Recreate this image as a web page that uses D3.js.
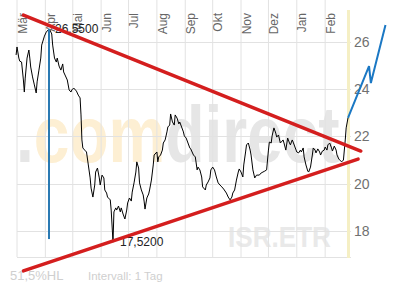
<!DOCTYPE html>
<html><head><meta charset="utf-8">
<script src="https://cdn.jsdelivr.net/npm/d3@7"></script>
<style>html,body{margin:0;padding:0;background:#fff;} svg{display:block;font-family:"Liberation Sans",Arial,sans-serif;}</style>
</head><body><svg id="c" width="394" height="289"></svg>
<script>
// ---------- data ----------
const monthLabels = ["Mär","Apr","Mai","Jun","Jul","Aug","Sep","Okt","Nov","Dez","Jan","Feb"];
const yTicks = [18, 20, 22, 24, 26];
const priceDates = [
"2011-02-28","2011-03-01","2011-03-03","2011-03-04","2011-03-06","2011-03-08","2011-03-09","2011-03-10","2011-03-12","2011-03-14",
"2011-03-15","2011-03-16","2011-03-18","2011-03-20","2011-03-22","2011-03-23","2011-03-25","2011-03-27","2011-03-28","2011-03-31",
"2011-04-02","2011-04-05","2011-04-06","2011-04-08","2011-04-09","2011-04-11","2011-04-13","2011-04-14","2011-04-16","2011-04-18",
"2011-04-20","2011-04-21","2011-04-23","2011-04-25","2011-04-27","2011-04-29","2011-04-30","2011-05-02","2011-05-05","2011-05-07",
"2011-05-09","2011-05-10","2011-05-11","2011-05-12","2011-05-14","2011-05-16","2011-05-18","2011-05-20","2011-05-21","2011-05-23",
"2011-05-25","2011-05-26","2011-05-28","2011-05-30","2011-05-31","2011-06-02","2011-06-04","2011-06-05","2011-06-07","2011-06-08",
"2011-06-11","2011-06-12","2011-06-14","2011-06-15","2011-06-17","2011-06-18","2011-06-20","2011-06-22","2011-06-23","2011-06-25",
"2011-06-27","2011-06-29","2011-06-30","2011-07-02","2011-07-04","2011-07-05","2011-07-07","2011-07-09","2011-07-10","2011-07-12",
"2011-07-13","2011-07-15","2011-07-17","2011-07-18","2011-07-19","2011-07-21","2011-07-23","2011-07-24","2011-07-26","2011-07-28",
"2011-07-29","2011-08-01","2011-08-02","2011-08-03","2011-08-05","2011-08-07","2011-08-08","2011-08-10","2011-08-12","2011-08-13",
"2011-08-15","2011-08-16","2011-08-18","2011-08-20","2011-08-21","2011-08-23","2011-08-25","2011-08-26","2011-08-28","2011-08-30",
"2011-08-31","2011-09-02","2011-09-04","2011-09-06","2011-09-07","2011-09-10","2011-09-12","2011-09-14","2011-09-15","2011-09-17",
"2011-09-19","2011-09-20","2011-09-23","2011-09-24","2011-09-26","2011-09-28","2011-09-29","2011-10-01","2011-10-03","2011-10-05",
"2011-10-07","2011-10-09","2011-10-11","2011-10-13","2011-10-16","2011-10-18","2011-10-20","2011-10-22","2011-10-23","2011-10-25",
"2011-10-27","2011-10-29","2011-10-30","2011-11-01","2011-11-03","2011-11-04","2011-11-06","2011-11-07","2011-11-09","2011-11-11",
"2011-11-12","2011-11-14","2011-11-16","2011-11-18","2011-11-21","2011-11-23","2011-11-25","2011-11-27","2011-11-29","2011-12-01",
"2011-12-02","2011-12-04","2011-12-05","2011-12-07","2011-12-09","2011-12-10","2011-12-12","2011-12-14","2011-12-15","2011-12-17",
"2011-12-18","2011-12-20","2011-12-22","2011-12-24","2011-12-25","2011-12-27","2011-12-28","2011-12-30","2012-01-01","2012-01-03",
"2012-01-05","2012-01-06","2012-01-08","2012-01-09","2012-01-11","2012-01-13","2012-01-14","2012-01-16","2012-01-18","2012-01-19",
"2012-01-21","2012-01-22","2012-01-24","2012-01-26","2012-01-27","2012-01-29","2012-01-31","2012-02-01","2012-02-03","2012-02-04",
"2012-02-06","2012-02-08","2012-02-09","2012-02-11","2012-02-13","2012-02-14","2012-02-16","2012-02-18","2012-02-19","2012-02-21",
"2012-02-23","2012-02-24","2012-02-26"];
const priceValues = [
25.45,25.79,25.32,25.19,25.15,24.39,23.88,24.47,25.32,25.66,
25.32,24.94,24.52,24.18,23.84,24.31,24.81,25.32,25.87,26.25,
26.42,26.55,26.51,26.34,25.87,25.32,25.15,25.32,24.98,24.81,
25.07,24.73,24.56,24.39,23.97,23.88,23.97,24.05,23.92,23.75,
23.63,22.91,21.85,21.51,21.42,21.34,20.79,20.24,19.81,19.43,
19.94,20.49,20.66,20.24,19.94,20.36,20.24,19.73,19.60,19.43,
19.31,18.88,17.52,18.80,18.97,18.88,19.05,18.80,18.97,18.71,
18.50,18.88,19.18,19.39,19.26,19.64,20.03,20.49,20.92,20.66,
20.03,19.73,19.52,19.26,18.92,19.39,19.56,19.73,20.15,20.79,
21.21,21.34,20.92,21.13,21.21,21.42,21.72,21.85,22.19,22.40,
22.48,22.95,22.61,22.48,22.91,22.78,22.53,22.61,22.40,22.19,
22.02,21.93,21.72,21.51,21.47,21.21,21.13,20.58,20.70,20.58,
20.28,19.86,19.73,19.94,20.07,20.24,20.58,20.70,20.58,20.28,
20.03,19.94,19.86,19.77,19.60,19.43,19.31,19.43,19.60,19.73,
20.15,20.49,20.62,20.49,20.28,20.79,21.34,21.64,21.72,21.42,
21.21,20.58,20.24,20.36,20.36,20.45,20.49,20.53,20.58,21.42,
21.76,21.72,22.02,22.36,22.14,21.97,22.06,21.72,21.76,21.85,
21.72,21.42,21.93,21.72,21.64,21.85,21.76,21.55,21.34,21.30,
21.42,21.34,21.51,21.13,20.79,20.53,20.49,20.70,21.21,21.51,
21.42,21.30,21.47,21.34,21.21,21.38,21.42,21.55,21.42,21.64,
21.72,21.51,21.38,21.59,21.42,21.21,21.04,20.96,20.92,21.00,
21.85,22.36,22.78];
const highLabel = "26,5500", highDate = "2011-04-05", highValue = 26.55;
const lowLabel = "17,5200", lowDate = "2011-06-14", lowValue = 17.52;
const markerDate = "2011-04-05", markerValues = [26.55, 17.65];
const upperTrendDates = ["2011-03-08", "2012-03-11"], upperTrendValues = [27.14, 21.38];
const lowerTrendDates = ["2011-03-08", "2012-03-08"], lowerTrendValues = [16.30, 21.04];
const projDates = ["2012-02-26", "2012-03-20", "2012-03-22", "2012-04-07"], projValues = [22.78, 24.98, 24.26, 26.72];
const startDate = "2011-03-01", endDate = "2012-02-26";
const footLeft = "51,5%HL", footRight = "Intervall: 1 Tag", symbolText = "ISR.ETR";

// ---------- layout ----------
const P = d3.utcParse("%Y-%m-%d");
const L = 17, R = 348, B = 257;
const svg = d3.select("#c");
const x = d3.scaleUtc().domain([P(startDate), P(endDate)]).range([L, R]);
const y = d3.scaleLinear().domain([18, 26]).range([230.8, 42]);

// watermark
const wm = svg.append("text").attr("transform", "translate(16,162) scale(0.8,1)")
  .attr("font-size", 80).attr("font-weight", "bold");
wm.append("tspan").attr("fill", "#e6e6e6").text(".");
wm.append("tspan").attr("fill", "#fdefd3").text("com");
wm.append("tspan").attr("fill", "#e6e6e6").text("direct");
svg.append("text").attr("transform", "translate(228,247) scale(0.9,1)").attr("font-size", 29).attr("font-weight", "bold")
  .attr("fill", "#e9e9e9").text(symbolText);

// grid
const months = d3.utcMonth.range(P(startDate), P(endDate));
svg.append("g").selectAll("line").data(months).join("line")
  .attr("x1", d => x(d)).attr("x2", d => x(d)).attr("y1", 0).attr("y2", B)
  .attr("stroke", "#e2e2e2").attr("stroke-width", 1);
svg.append("g").selectAll("line").data(yTicks).join("line")
  .attr("x1", L).attr("x2", R + 3).attr("y1", d => Math.round(y(d)) + 0.5).attr("y2", d => Math.round(y(d)) + 0.5)
  .attr("stroke", "#e2e2e2");
svg.append("line").attr("x1", L).attr("x2", R + 3).attr("y1", B + 0.5).attr("y2", B + 0.5).attr("stroke", "#e2e2e2");

// yellow end bar
svg.append("line").attr("x1", R + 0.5).attr("x2", R + 0.5).attr("y1", 10).attr("y2", B + 1)
  .attr("stroke", "#f5efc4").attr("stroke-width", 3);

// month labels
svg.append("g").selectAll("text").data(months).join("text")
  .attr("transform", d => `translate(${x(d) + 5.5},13) rotate(-90)`)
  .attr("text-anchor", "end").attr("dy", "0.35em")
  .attr("font-size", 12).attr("fill", "#666")
  .text((d, i) => monthLabels[i]);

// y labels
const yAxis = svg.append("g").attr("transform", `translate(${R + 6},0)`)
  .call(d3.axisRight(y).tickValues(yTicks).tickSize(0).tickPadding(0).tickFormat(d3.format("d")));
yAxis.select(".domain").remove();
yAxis.selectAll("text").attr("font-size", 14).attr("fill", "#707070").attr("font-family", "Liberation Sans, Arial, sans-serif");

// price line
const series = priceDates.map((d, i) => [P(d), priceValues[i]]);
const line = d3.line().x(d => x(d[0])).y(d => y(d[1]));
svg.append("path").datum(series).attr("d", line).attr("fill", "none")
  .attr("stroke", "#000").attr("stroke-width", 1).attr("stroke-linejoin", "round");

// high marker
svg.append("line").attr("x1", x(P(markerDate))).attr("x2", x(P(markerDate)))
  .attr("y1", y(markerValues[0])).attr("y2", y(markerValues[1]))
  .attr("stroke", "#2a7ab3").attr("stroke-width", 2);

// annotations
svg.append("text").attr("x", x(P(highDate)) + 6).attr("y", y(highValue) + 3.5)
  .attr("font-size", 12).attr("fill", "#222").text(highLabel);
svg.append("text").attr("x", x(P(lowDate)) + 7).attr("y", y(lowValue) + 3.5)
  .attr("font-size", 12).attr("fill", "#222").text(lowLabel);

// trend lines
function trend(dates, vals) {
  svg.append("path").datum(dates.map((d, i) => [P(d), vals[i]])).attr("d", line)
    .attr("fill", "none").attr("stroke", "#d41e1e").attr("stroke-width", 3.5).attr("stroke-linecap", "round");
}
trend(upperTrendDates, upperTrendValues);
trend(lowerTrendDates, lowerTrendValues);

// projection
svg.append("path").datum(projDates.map((d, i) => [P(d), projValues[i]])).attr("d", line)
  .attr("fill", "none").attr("stroke", "#1b78c4").attr("stroke-width", 2);

// footer
svg.append("text").attr("x", 10).attr("y", 280).attr("font-size", 13).attr("fill", "#cfcfcf").text(footLeft);
svg.append("text").attr("x", 88).attr("y", 280).attr("font-size", 11.5).attr("fill", "#cfcfcf").text(footRight);
</script></body></html>
